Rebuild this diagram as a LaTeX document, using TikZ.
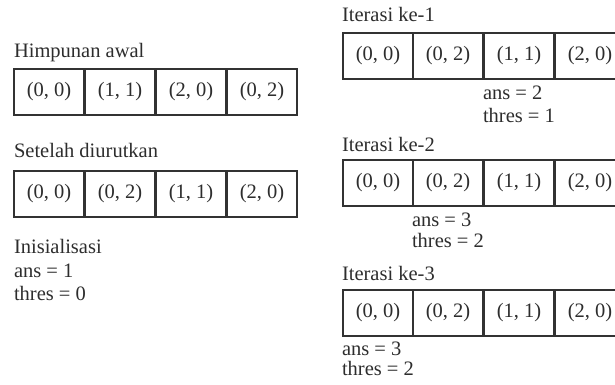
\documentclass[tikz,border=0pt]{standalone}
\usepackage{fontspec}
\setmainfont{Liberation Serif}
\definecolor{txt}{RGB}{45,45,45}
\definecolor{edge}{RGB}{50,50,50}
\newcommand{\bodyfont}{\fontsize{20.5}{24}\selectfont}
\begin{document}
\begin{tikzpicture}[x=1pt,y=-1pt,
  txtlab/.style={anchor=base west, inner sep=0pt, outer sep=0pt, text=txt, font=\bodyfont},
  cell/.style={draw=edge, line width=1.2pt, minimum width=70pt, minimum height=46pt,
    anchor=north west, inner sep=0pt, outer sep=0pt, text=txt, font=\bodyfont}]
\useasboundingbox (0,0) rectangle (615,385);
\clip (0,0) rectangle (615,385);

% ---- left column ----
\node[txtlab] (himp) at (14,58) {Himpunan awal};
\foreach \x/\t [count=\i] in {14/{(0, 0)},85/{(1, 1)},156/{(2, 0)},227/{(0, 2)}}
  \node[cell] (a\i) at (\x,69) {\t};

\node[txtlab] (setelah) at (14,157) {Setelah diurutkan};
\foreach \x/\t [count=\i] in {14/{(0, 0)},85/{(0, 2)},156/{(1, 1)},227/{(2, 0)}}
  \node[cell] (b\i) at (\x,171) {\t};

\node[txtlab] (init) at (14,253) {Inisialisasi};
\node[txtlab] (initans) at (14,277) {ans = 1};
\node[txtlab] (initthr) at (14,300) {thres = 0};

% ---- right column: iterations ----
\node[txtlab] (it1) at (342,22) {Iterasi ke-1};
\foreach \x/\t [count=\i] in {343/{(0, 0)},413/{(0, 2)},484/{(1, 1)},555/{(2, 0)}}
  \node[cell] (p\i) at (\x,33) {\t};
\node[txtlab] (it1ans) at (483,100) {ans = 2};
\node[txtlab] (it1thr) at (483,122) {thres = 1};

\node[txtlab] (it2) at (342,151) {Iterasi ke-2};
\foreach \x/\t [count=\i] in {343/{(0, 0)},413/{(0, 2)},484/{(1, 1)},555/{(2, 0)}}
  \node[cell] (q\i) at (\x,160) {\t};
\node[txtlab] (it2ans) at (412,226) {ans = 3};
\node[txtlab] (it2thr) at (412,247) {thres = 2};

\node[txtlab] (it3) at (342,280) {Iterasi ke-3};
\foreach \x/\t [count=\i] in {343/{(0, 0)},413/{(0, 2)},484/{(1, 1)},555/{(2, 0)}}
  \node[cell] (s\i) at (\x,290) {\t};
\node[txtlab] (it3ans) at (342,355) {ans = 3};
\node[txtlab] (it3thr) at (342,375) {thres = 2};
\end{tikzpicture}
\end{document}
